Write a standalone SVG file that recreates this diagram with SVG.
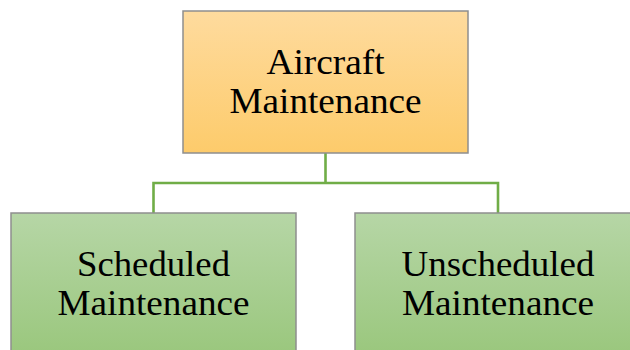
<svg xmlns="http://www.w3.org/2000/svg" width="630" height="350" viewBox="0 0 630 350">
  <defs>
    <linearGradient id="gOrange" x1="0" y1="0" x2="0" y2="1">
      <stop offset="0" stop-color="#FEDB9E"/>
      <stop offset="1" stop-color="#FDCB6B"/>
    </linearGradient>
    <linearGradient id="gGreen" x1="0" y1="0" x2="0" y2="1">
      <stop offset="0" stop-color="#B6D6A6"/>
      <stop offset="1" stop-color="#9AC77D"/>
    </linearGradient>
  </defs>
  <style>
    .box { stroke: #8E8E8E; stroke-width: 1.5; }
    .top { fill: url(#gOrange); }
    .sub { fill: url(#gGreen); }
    .lbl { font-family: "Liberation Serif", "Times New Roman", serif; font-size: 36px; fill: #000; text-anchor: middle; }
    .conn { fill: none; stroke: #70AD47; stroke-width: 2.6; }
  </style>

  <rect width="630" height="350" fill="#FFFFFF"/>

  <g id="connectors">
    <path class="conn" d="M325.5 153 V183 M153.5 183 H498 M153.5 181.7 V213 M498 181.7 V213"/>
  </g>

  <g id="aircraft-maintenance">
    <rect class="box top" x="183" y="11" width="285" height="142"/>
    <text class="lbl" x="325.5" y="74" textLength="118" lengthAdjust="spacingAndGlyphs">Aircraft</text>
    <text class="lbl" x="325.5" y="112.5" textLength="192" lengthAdjust="spacingAndGlyphs">Maintenance</text>
  </g>

  <g id="scheduled-maintenance">
    <rect class="box sub" x="11" y="213" width="285" height="142"/>
    <text class="lbl" x="153.5" y="275.5" textLength="153" lengthAdjust="spacingAndGlyphs">Scheduled</text>
    <text class="lbl" x="153.5" y="314.5" textLength="192" lengthAdjust="spacingAndGlyphs">Maintenance</text>
  </g>

  <g id="unscheduled-maintenance">
    <rect class="box sub" x="355" y="213" width="286" height="142"/>
    <text class="lbl" x="498" y="275.5" textLength="193" lengthAdjust="spacingAndGlyphs">Unscheduled</text>
    <text class="lbl" x="498" y="314.5" textLength="192" lengthAdjust="spacingAndGlyphs">Maintenance</text>
  </g>
</svg>
